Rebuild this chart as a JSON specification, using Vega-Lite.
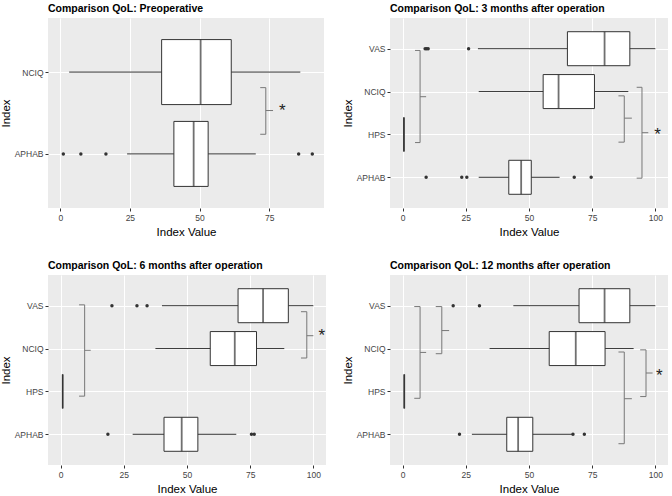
{
  "$schema": "https://vega.github.io/schema/vega-lite/v6.json",
  "padding": {"left": 0, "top": 3, "right": 2, "bottom": 0},
  "background": "white",
  "datasets": {
    "boxes": [
      {"panel": "pre", "index": "NCIQ", "lower": 3.2, "q1": 36.4, "median": 50.4, "q3": 61.4, "upper": 86.2},
      {"panel": "pre", "index": "APHAB", "lower": 24.0, "q1": 40.8, "median": 47.9, "q3": 53.1, "upper": 70.2},
      {"panel": "m3", "index": "VAS", "lower": 29.8, "q1": 65.2, "median": 79.9, "q3": 89.9, "upper": 100},
      {"panel": "m3", "index": "NCIQ", "lower": 30.1, "q1": 55.6, "median": 61.7, "q3": 75.9, "upper": 89.3},
      {"panel": "m3", "index": "HPS", "lower": 0.5, "q1": 0.5, "median": 0.5, "q3": 0.5, "upper": 0.5},
      {"panel": "m3", "index": "APHAB", "lower": 30.1, "q1": 42.0, "median": 46.9, "q3": 50.9, "upper": 62.1},
      {"panel": "m6", "index": "VAS", "lower": 40.1, "q1": 70.2, "median": 80.1, "q3": 90.1, "upper": 100},
      {"panel": "m6", "index": "NCIQ", "lower": 37.5, "q1": 59.2, "median": 68.9, "q3": 77.5, "upper": 88.5},
      {"panel": "m6", "index": "HPS", "lower": 0.8, "q1": 0.8, "median": 0.8, "q3": 0.8, "upper": 0.8},
      {"panel": "m6", "index": "APHAB", "lower": 28.5, "q1": 40.9, "median": 47.9, "q3": 54.3, "upper": 69.5},
      {"panel": "m12", "index": "VAS", "lower": 43.8, "q1": 69.8, "median": 79.9, "q3": 89.9, "upper": 100},
      {"panel": "m12", "index": "NCIQ", "lower": 34.4, "q1": 58.0, "median": 68.5, "q3": 80.1, "upper": 91.4},
      {"panel": "m12", "index": "HPS", "lower": 0.65, "q1": 0.65, "median": 0.65, "q3": 0.65, "upper": 0.65},
      {"panel": "m12", "index": "APHAB", "lower": 27.4, "q1": 41.2, "median": 45.7, "q3": 51.5, "upper": 67.4}
    ],
    "outliers": [
      {"panel": "pre", "index": "APHAB", "value": 1.1},
      {"panel": "pre", "index": "APHAB", "value": 7.4},
      {"panel": "pre", "index": "APHAB", "value": 16.4},
      {"panel": "pre", "index": "APHAB", "value": 85.6},
      {"panel": "pre", "index": "APHAB", "value": 90.5},
      {"panel": "m3", "index": "VAS", "value": 8.9},
      {"panel": "m3", "index": "VAS", "value": 9.5},
      {"panel": "m3", "index": "VAS", "value": 10.1},
      {"panel": "m3", "index": "VAS", "value": 26.1},
      {"panel": "m3", "index": "APHAB", "value": 9.3},
      {"panel": "m3", "index": "APHAB", "value": 23.4},
      {"panel": "m3", "index": "APHAB", "value": 25.4},
      {"panel": "m3", "index": "APHAB", "value": 67.9},
      {"panel": "m3", "index": "APHAB", "value": 74.6},
      {"panel": "m6", "index": "VAS", "value": 20.3},
      {"panel": "m6", "index": "VAS", "value": 30.2},
      {"panel": "m6", "index": "VAS", "value": 34.2},
      {"panel": "m6", "index": "APHAB", "value": 18.7},
      {"panel": "m6", "index": "APHAB", "value": 75.5},
      {"panel": "m6", "index": "APHAB", "value": 76.6},
      {"panel": "m12", "index": "VAS", "value": 20.0},
      {"panel": "m12", "index": "VAS", "value": 30.4},
      {"panel": "m12", "index": "APHAB", "value": 22.5},
      {"panel": "m12", "index": "APHAB", "value": 67.4},
      {"panel": "m12", "index": "APHAB", "value": 71.9}
    ],
    "brackets": [
      {"panel": "pre", "x": 73.8, "xl": 71.8, "xr": 76.4, "ytop": 1.81, "ybot": 1.24, "ymid": 1.53},
      {"panel": "m3", "x": 6.9, "xl": 4.9, "xr": 9.3, "ytop": 3.96, "ybot": 1.81, "ymid": 2.88},
      {"panel": "m3", "x": 87.7, "xl": 85.4, "xr": 90.7, "ytop": 2.9, "ybot": 1.82, "ymid": 2.38},
      {"panel": "m3", "x": 94.7, "xl": 92.6, "xr": 97.2, "ytop": 3.1, "ybot": 0.98, "ymid": 2.04},
      {"panel": "m6", "x": 9.5, "xl": 7.3, "xr": 11.9, "ytop": 4.02, "ybot": 1.89, "ymid": 2.96},
      {"panel": "m6", "x": 97.4, "xl": 95.1, "xr": 100, "ytop": 3.86, "ybot": 2.78, "ymid": 3.3},
      {"panel": "m12", "x": 6.9, "xl": 4.6, "xr": 9.3, "ytop": 3.98, "ybot": 1.84, "ymid": 2.91},
      {"panel": "m12", "x": 15.5, "xl": 13.1, "xr": 18.4, "ytop": 3.98, "ybot": 2.88, "ymid": 3.42},
      {"panel": "m12", "x": 87.7, "xl": 85.4, "xr": 90.7, "ytop": 2.92, "ybot": 0.78, "ymid": 1.83},
      {"panel": "m12", "x": 96.3, "xl": 94.0, "xr": 98.9, "ytop": 2.97, "ybot": 1.88, "ymid": 2.43}
    ],
    "stars": [
      {"panel": "pre", "x": 79.7, "y": 1.57, "label": "*"},
      {"panel": "m3", "x": 100.9, "y": 2.09, "label": "*"},
      {"panel": "m6", "x": 103.3, "y": 3.39, "label": "*"},
      {"panel": "m12", "x": 101.6, "y": 2.45, "label": "*"}
    ]
  },
  "columns": 2,
  "spacing": {"row": 22, "column": 16},
  "concat": [
    {
      "width": 276, "height": 190,
      "title": "Comparison QoL: Preoperative",
      "resolve": {"axis": {"x": "independent"}},
      "layer": [
        {
          "data": {"name": "boxes"},
          "transform": [{"filter": "datum.panel == 'pre'"}, {"calculate": "indexof(['APHAB','NCIQ'], datum.index) + 1", "as": "pos"}],
          "mark": {"type": "rule", "color": "#333333", "strokeWidth": 1},
          "encoding": {
            "x": {"field": "lower", "type": "quantitative", "scale": {"domain": [-4.4, 94.7], "nice": false, "zero": false}, "axis": {"values": [0, 25, 50, 75], "title": "Index Value"}},
            "x2": {"field": "upper"},
            "y": {"field": "pos", "type": "quantitative", "scale": {"domain": [0.4, 2.6], "nice": false, "zero": false}, "axis": {"values": [1, 2], "labelExpr": "['','APHAB','NCIQ'][datum.value]", "title": "Index"}}
          }
        },
        {
          "data": {"name": "boxes"},
          "transform": [{"filter": "datum.panel == 'pre'"}, {"calculate": "indexof(['APHAB','NCIQ'], datum.index) + 1", "as": "pos"}],
          "mark": {"type": "bar", "fill": "white", "stroke": "#333333", "strokeWidth": 1, "size": 65},
          "encoding": {
            "x": {"field": "q1", "type": "quantitative", "axis": {"orient": "top", "values": [12.5, 37.5, 62.5, 87.5], "labels": false, "ticks": false, "domain": false, "title": null, "gridWidth": 0.5}},
            "x2": {"field": "q3"},
            "y": {"field": "pos", "type": "quantitative", "title": "Index"}
          }
        },
        {
          "data": {"name": "boxes"},
          "transform": [{"filter": "datum.panel == 'pre'"}, {"calculate": "indexof(['APHAB','NCIQ'], datum.index) + 1", "as": "pos"}],
          "mark": {"type": "tick", "orient": "vertical", "color": "#333333", "thickness": 1.8, "size": 65},
          "encoding": {
            "x": {"field": "median", "type": "quantitative", "axis": null},
            "y": {"field": "pos", "type": "quantitative", "title": "Index"}
          }
        },
        {
          "data": {"name": "outliers"},
          "transform": [{"filter": "datum.panel == 'pre'"}, {"calculate": "indexof(['APHAB','NCIQ'], datum.index) + 1", "as": "pos"}],
          "mark": {"type": "circle", "color": "#333333", "size": 12, "opacity": 1},
          "encoding": {
            "x": {"field": "value", "type": "quantitative", "axis": null},
            "y": {"field": "pos", "type": "quantitative", "title": "Index"}
          }
        },
        {
          "data": {"name": "brackets"},
          "transform": [{"filter": "datum.panel == 'pre'"}],
          "mark": {"type": "rule", "color": "#777777", "strokeWidth": 1},
          "encoding": {"x": {"field": "x", "type": "quantitative", "axis": null}, "y": {"field": "ytop", "type": "quantitative", "title": "Index"}, "y2": {"field": "ybot"}}
        },
        {
          "data": {"name": "brackets"},
          "transform": [{"filter": "datum.panel == 'pre'"}],
          "mark": {"type": "rule", "color": "#777777", "strokeWidth": 1},
          "encoding": {"x": {"field": "xl", "type": "quantitative", "axis": null}, "x2": {"field": "x"}, "y": {"field": "ytop", "type": "quantitative", "title": "Index"}}
        },
        {
          "data": {"name": "brackets"},
          "transform": [{"filter": "datum.panel == 'pre'"}],
          "mark": {"type": "rule", "color": "#777777", "strokeWidth": 1},
          "encoding": {"x": {"field": "xl", "type": "quantitative", "axis": null}, "x2": {"field": "x"}, "y": {"field": "ybot", "type": "quantitative", "title": "Index"}}
        },
        {
          "data": {"name": "brackets"},
          "transform": [{"filter": "datum.panel == 'pre'"}],
          "mark": {"type": "rule", "color": "#777777", "strokeWidth": 1},
          "encoding": {"x": {"field": "x", "type": "quantitative", "axis": null}, "x2": {"field": "xr"}, "y": {"field": "ymid", "type": "quantitative", "title": "Index"}}
        },
        {
          "data": {"name": "stars"},
          "transform": [{"filter": "datum.panel == 'pre'"}],
          "mark": {"type": "text", "fontSize": 17, "color": "#222222", "baseline": "middle", "align": "center", "dy": 4, "font": "Liberation Sans"},
          "encoding": {"x": {"field": "x", "type": "quantitative", "axis": null}, "y": {"field": "y", "type": "quantitative", "title": "Index"}, "text": {"field": "label"}}
        }
      ]
    },
    {
      "width": 278, "height": 190,
      "title": "Comparison QoL: 3 months after operation",
      "resolve": {"axis": {"x": "independent"}},
      "layer": [
        {
          "data": {"name": "boxes"},
          "transform": [{"filter": "datum.panel == 'm3'"}, {"calculate": "indexof(['APHAB','HPS','NCIQ','VAS'], datum.index) + 1", "as": "pos"}],
          "mark": {"type": "rule", "color": "#333333", "strokeWidth": 1},
          "encoding": {
            "x": {"field": "lower", "type": "quantitative", "scale": {"domain": [-5, 105], "nice": false, "zero": false}, "axis": {"values": [0, 25, 50, 75, 100], "title": "Index Value"}},
            "x2": {"field": "upper"},
            "y": {"field": "pos", "type": "quantitative", "scale": {"domain": [0.4, 4.6], "nice": false, "zero": false}, "axis": {"values": [1, 2, 3, 4], "labelExpr": "['','APHAB','HPS','NCIQ','VAS'][datum.value]", "title": "Index"}}
          }
        },
        {
          "data": {"name": "boxes"},
          "transform": [{"filter": "datum.panel == 'm3'"}, {"calculate": "indexof(['APHAB','HPS','NCIQ','VAS'], datum.index) + 1", "as": "pos"}],
          "mark": {"type": "bar", "fill": "white", "stroke": "#333333", "strokeWidth": 1, "size": 34},
          "encoding": {
            "x": {"field": "q1", "type": "quantitative", "axis": {"orient": "top", "values": [12.5, 37.5, 62.5, 87.5], "labels": false, "ticks": false, "domain": false, "title": null, "gridWidth": 0.5}},
            "x2": {"field": "q3"},
            "y": {"field": "pos", "type": "quantitative", "title": "Index"}
          }
        },
        {
          "data": {"name": "boxes"},
          "transform": [{"filter": "datum.panel == 'm3'"}, {"calculate": "indexof(['APHAB','HPS','NCIQ','VAS'], datum.index) + 1", "as": "pos"}],
          "mark": {"type": "tick", "orient": "vertical", "color": "#333333", "thickness": 1.8, "size": 34},
          "encoding": {
            "x": {"field": "median", "type": "quantitative", "axis": null},
            "y": {"field": "pos", "type": "quantitative", "title": "Index"}
          }
        },
        {
          "data": {"name": "outliers"},
          "transform": [{"filter": "datum.panel == 'm3'"}, {"calculate": "indexof(['APHAB','HPS','NCIQ','VAS'], datum.index) + 1", "as": "pos"}],
          "mark": {"type": "circle", "color": "#333333", "size": 12, "opacity": 1},
          "encoding": {
            "x": {"field": "value", "type": "quantitative", "axis": null},
            "y": {"field": "pos", "type": "quantitative", "title": "Index"}
          }
        },
        {
          "data": {"name": "brackets"},
          "transform": [{"filter": "datum.panel == 'm3'"}],
          "mark": {"type": "rule", "color": "#777777", "strokeWidth": 1},
          "encoding": {"x": {"field": "x", "type": "quantitative", "axis": null}, "y": {"field": "ytop", "type": "quantitative", "title": "Index"}, "y2": {"field": "ybot"}}
        },
        {
          "data": {"name": "brackets"},
          "transform": [{"filter": "datum.panel == 'm3'"}],
          "mark": {"type": "rule", "color": "#777777", "strokeWidth": 1},
          "encoding": {"x": {"field": "xl", "type": "quantitative", "axis": null}, "x2": {"field": "x"}, "y": {"field": "ytop", "type": "quantitative", "title": "Index"}}
        },
        {
          "data": {"name": "brackets"},
          "transform": [{"filter": "datum.panel == 'm3'"}],
          "mark": {"type": "rule", "color": "#777777", "strokeWidth": 1},
          "encoding": {"x": {"field": "xl", "type": "quantitative", "axis": null}, "x2": {"field": "x"}, "y": {"field": "ybot", "type": "quantitative", "title": "Index"}}
        },
        {
          "data": {"name": "brackets"},
          "transform": [{"filter": "datum.panel == 'm3'"}],
          "mark": {"type": "rule", "color": "#777777", "strokeWidth": 1},
          "encoding": {"x": {"field": "x", "type": "quantitative", "axis": null}, "x2": {"field": "xr"}, "y": {"field": "ymid", "type": "quantitative", "title": "Index"}}
        },
        {
          "data": {"name": "stars"},
          "transform": [{"filter": "datum.panel == 'm3'"}],
          "mark": {"type": "text", "fontSize": 17, "color": "#222222", "baseline": "middle", "align": "center", "dy": 4, "font": "Liberation Sans"},
          "encoding": {"x": {"field": "x", "type": "quantitative", "axis": null}, "y": {"field": "y", "type": "quantitative", "title": "Index"}, "text": {"field": "label"}}
        }
      ]
    },
    {
      "width": 278, "height": 190,
      "title": "Comparison QoL: 6 months after operation",
      "resolve": {"axis": {"x": "independent"}},
      "layer": [
        {
          "data": {"name": "boxes"},
          "transform": [{"filter": "datum.panel == 'm6'"}, {"calculate": "indexof(['APHAB','HPS','NCIQ','VAS'], datum.index) + 1", "as": "pos"}],
          "mark": {"type": "rule", "color": "#333333", "strokeWidth": 1},
          "encoding": {
            "x": {"field": "lower", "type": "quantitative", "scale": {"domain": [-5, 105], "nice": false, "zero": false}, "axis": {"values": [0, 25, 50, 75, 100], "title": "Index Value"}},
            "x2": {"field": "upper"},
            "y": {"field": "pos", "type": "quantitative", "scale": {"domain": [0.4, 4.6], "nice": false, "zero": false}, "axis": {"values": [1, 2, 3, 4], "labelExpr": "['','APHAB','HPS','NCIQ','VAS'][datum.value]", "title": "Index"}}
          }
        },
        {
          "data": {"name": "boxes"},
          "transform": [{"filter": "datum.panel == 'm6'"}, {"calculate": "indexof(['APHAB','HPS','NCIQ','VAS'], datum.index) + 1", "as": "pos"}],
          "mark": {"type": "bar", "fill": "white", "stroke": "#333333", "strokeWidth": 1, "size": 34},
          "encoding": {
            "x": {"field": "q1", "type": "quantitative", "axis": {"orient": "top", "values": [12.5, 37.5, 62.5, 87.5], "labels": false, "ticks": false, "domain": false, "title": null, "gridWidth": 0.5}},
            "x2": {"field": "q3"},
            "y": {"field": "pos", "type": "quantitative", "title": "Index"}
          }
        },
        {
          "data": {"name": "boxes"},
          "transform": [{"filter": "datum.panel == 'm6'"}, {"calculate": "indexof(['APHAB','HPS','NCIQ','VAS'], datum.index) + 1", "as": "pos"}],
          "mark": {"type": "tick", "orient": "vertical", "color": "#333333", "thickness": 1.8, "size": 34},
          "encoding": {
            "x": {"field": "median", "type": "quantitative", "axis": null},
            "y": {"field": "pos", "type": "quantitative", "title": "Index"}
          }
        },
        {
          "data": {"name": "outliers"},
          "transform": [{"filter": "datum.panel == 'm6'"}, {"calculate": "indexof(['APHAB','HPS','NCIQ','VAS'], datum.index) + 1", "as": "pos"}],
          "mark": {"type": "circle", "color": "#333333", "size": 12, "opacity": 1},
          "encoding": {
            "x": {"field": "value", "type": "quantitative", "axis": null},
            "y": {"field": "pos", "type": "quantitative", "title": "Index"}
          }
        },
        {
          "data": {"name": "brackets"},
          "transform": [{"filter": "datum.panel == 'm6'"}],
          "mark": {"type": "rule", "color": "#777777", "strokeWidth": 1},
          "encoding": {"x": {"field": "x", "type": "quantitative", "axis": null}, "y": {"field": "ytop", "type": "quantitative", "title": "Index"}, "y2": {"field": "ybot"}}
        },
        {
          "data": {"name": "brackets"},
          "transform": [{"filter": "datum.panel == 'm6'"}],
          "mark": {"type": "rule", "color": "#777777", "strokeWidth": 1},
          "encoding": {"x": {"field": "xl", "type": "quantitative", "axis": null}, "x2": {"field": "x"}, "y": {"field": "ytop", "type": "quantitative", "title": "Index"}}
        },
        {
          "data": {"name": "brackets"},
          "transform": [{"filter": "datum.panel == 'm6'"}],
          "mark": {"type": "rule", "color": "#777777", "strokeWidth": 1},
          "encoding": {"x": {"field": "xl", "type": "quantitative", "axis": null}, "x2": {"field": "x"}, "y": {"field": "ybot", "type": "quantitative", "title": "Index"}}
        },
        {
          "data": {"name": "brackets"},
          "transform": [{"filter": "datum.panel == 'm6'"}],
          "mark": {"type": "rule", "color": "#777777", "strokeWidth": 1},
          "encoding": {"x": {"field": "x", "type": "quantitative", "axis": null}, "x2": {"field": "xr"}, "y": {"field": "ymid", "type": "quantitative", "title": "Index"}}
        },
        {
          "data": {"name": "stars"},
          "transform": [{"filter": "datum.panel == 'm6'"}],
          "mark": {"type": "text", "fontSize": 17, "color": "#222222", "baseline": "middle", "align": "center", "dy": 4, "font": "Liberation Sans"},
          "encoding": {"x": {"field": "x", "type": "quantitative", "axis": null}, "y": {"field": "y", "type": "quantitative", "title": "Index"}, "text": {"field": "label"}}
        }
      ]
    },
    {
      "width": 278, "height": 190,
      "title": "Comparison QoL: 12 months after operation",
      "resolve": {"axis": {"x": "independent"}},
      "layer": [
        {
          "data": {"name": "boxes"},
          "transform": [{"filter": "datum.panel == 'm12'"}, {"calculate": "indexof(['APHAB','HPS','NCIQ','VAS'], datum.index) + 1", "as": "pos"}],
          "mark": {"type": "rule", "color": "#333333", "strokeWidth": 1},
          "encoding": {
            "x": {"field": "lower", "type": "quantitative", "scale": {"domain": [-5, 105], "nice": false, "zero": false}, "axis": {"values": [0, 25, 50, 75, 100], "title": "Index Value"}},
            "x2": {"field": "upper"},
            "y": {"field": "pos", "type": "quantitative", "scale": {"domain": [0.4, 4.6], "nice": false, "zero": false}, "axis": {"values": [1, 2, 3, 4], "labelExpr": "['','APHAB','HPS','NCIQ','VAS'][datum.value]", "title": "Index"}}
          }
        },
        {
          "data": {"name": "boxes"},
          "transform": [{"filter": "datum.panel == 'm12'"}, {"calculate": "indexof(['APHAB','HPS','NCIQ','VAS'], datum.index) + 1", "as": "pos"}],
          "mark": {"type": "bar", "fill": "white", "stroke": "#333333", "strokeWidth": 1, "size": 34},
          "encoding": {
            "x": {"field": "q1", "type": "quantitative", "axis": {"orient": "top", "values": [12.5, 37.5, 62.5, 87.5], "labels": false, "ticks": false, "domain": false, "title": null, "gridWidth": 0.5}},
            "x2": {"field": "q3"},
            "y": {"field": "pos", "type": "quantitative", "title": "Index"}
          }
        },
        {
          "data": {"name": "boxes"},
          "transform": [{"filter": "datum.panel == 'm12'"}, {"calculate": "indexof(['APHAB','HPS','NCIQ','VAS'], datum.index) + 1", "as": "pos"}],
          "mark": {"type": "tick", "orient": "vertical", "color": "#333333", "thickness": 1.8, "size": 34},
          "encoding": {
            "x": {"field": "median", "type": "quantitative", "axis": null},
            "y": {"field": "pos", "type": "quantitative", "title": "Index"}
          }
        },
        {
          "data": {"name": "outliers"},
          "transform": [{"filter": "datum.panel == 'm12'"}, {"calculate": "indexof(['APHAB','HPS','NCIQ','VAS'], datum.index) + 1", "as": "pos"}],
          "mark": {"type": "circle", "color": "#333333", "size": 12, "opacity": 1},
          "encoding": {
            "x": {"field": "value", "type": "quantitative", "axis": null},
            "y": {"field": "pos", "type": "quantitative", "title": "Index"}
          }
        },
        {
          "data": {"name": "brackets"},
          "transform": [{"filter": "datum.panel == 'm12'"}],
          "mark": {"type": "rule", "color": "#777777", "strokeWidth": 1},
          "encoding": {"x": {"field": "x", "type": "quantitative", "axis": null}, "y": {"field": "ytop", "type": "quantitative", "title": "Index"}, "y2": {"field": "ybot"}}
        },
        {
          "data": {"name": "brackets"},
          "transform": [{"filter": "datum.panel == 'm12'"}],
          "mark": {"type": "rule", "color": "#777777", "strokeWidth": 1},
          "encoding": {"x": {"field": "xl", "type": "quantitative", "axis": null}, "x2": {"field": "x"}, "y": {"field": "ytop", "type": "quantitative", "title": "Index"}}
        },
        {
          "data": {"name": "brackets"},
          "transform": [{"filter": "datum.panel == 'm12'"}],
          "mark": {"type": "rule", "color": "#777777", "strokeWidth": 1},
          "encoding": {"x": {"field": "xl", "type": "quantitative", "axis": null}, "x2": {"field": "x"}, "y": {"field": "ybot", "type": "quantitative", "title": "Index"}}
        },
        {
          "data": {"name": "brackets"},
          "transform": [{"filter": "datum.panel == 'm12'"}],
          "mark": {"type": "rule", "color": "#777777", "strokeWidth": 1},
          "encoding": {"x": {"field": "x", "type": "quantitative", "axis": null}, "x2": {"field": "xr"}, "y": {"field": "ymid", "type": "quantitative", "title": "Index"}}
        },
        {
          "data": {"name": "stars"},
          "transform": [{"filter": "datum.panel == 'm12'"}],
          "mark": {"type": "text", "fontSize": 17, "color": "#222222", "baseline": "middle", "align": "center", "dy": 4, "font": "Liberation Sans"},
          "encoding": {"x": {"field": "x", "type": "quantitative", "axis": null}, "y": {"field": "y", "type": "quantitative", "title": "Index"}, "text": {"field": "label"}}
        }
      ]
    }
  ],
  "config": {
    "font": "Liberation Sans",
    "view": {"fill": "#EBEBEB", "stroke": null},
    "title": {"anchor": "start", "fontSize": 10.5, "fontWeight": "bold", "color": "#000000", "offset": 4, "frame": "group"},
    "axis": {
      "grid": true,
      "gridColor": "#FFFFFF",
      "gridWidth": 1,
      "domain": false,
      "tickColor": "#333333",
      "tickSize": 3,
      "labelColor": "#444444",
      "labelFontSize": 8.5,
      "labelPadding": 2,
      "titleFontSize": 11.5,
      "titleFontWeight": "normal",
      "titleColor": "#000000"
    },
    "axisX": {"titlePadding": 5, "labelPadding": 2},
    "axisY": {"titlePadding": 3}
  }
}
